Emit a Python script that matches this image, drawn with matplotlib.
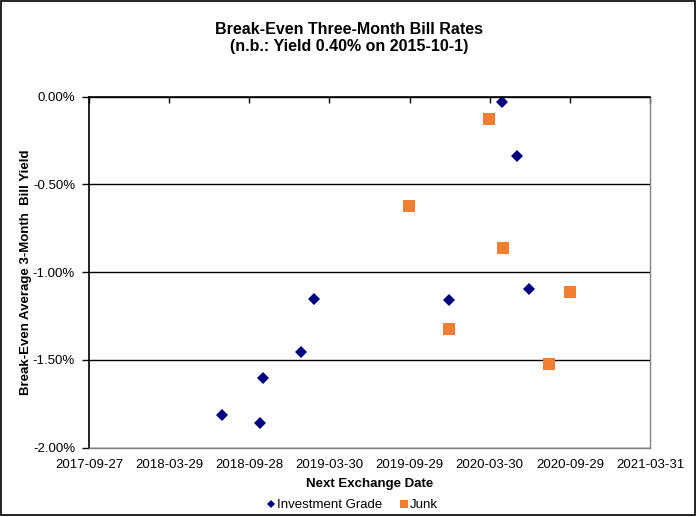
import numpy as np
import pandas as pd
import matplotlib
matplotlib.use("Agg")
from matplotlib import pyplot as plt
import matplotlib.dates as mdates
from matplotlib.patches import Rectangle

plt.rcParams['font.family'] = ['Liberation Sans', 'DejaVu Sans']

# data (yield in %)
ig_dates = ['2018-07-28', '2018-10-23', '2018-10-30', '2019-01-24', '2019-02-22',
            '2019-12-29', '2020-04-26', '2020-06-01', '2020-06-28']
ig_yields = [-1.815, -1.858, -1.603, -1.455, -1.151, -1.160, -0.029, -0.340, -1.098]

junk_dates = ['2019-09-28', '2019-12-28', '2020-03-28', '2020-04-29', '2020-08-12', '2020-09-29']
junk_yields = [-0.621, -1.322, -0.126, -0.861, -1.523, -1.111]

x_ticks = ['2017-09-27', '2018-03-29', '2018-09-28', '2019-03-30',
           '2019-09-29', '2020-03-30', '2020-09-29', '2021-03-31']
y_ticks = [0.0, -0.5, -1.0, -1.5, -2.0]
y_tick_labels = ['0.00%', '-0.50%', '-1.00%', '-1.50%', '-2.00%']

NAVY = '#000080'
ORANGE = '#F07F33'

fig = plt.figure(figsize=(6.98, 5.17), dpi=100)
ax = fig.add_axes([89 / 698, 1 - 447.7 / 517, 561 / 698, 351.1 / 517])

ax.plot(pd.to_datetime(ig_dates), ig_yields, linestyle='none', marker='D',
        ms=6, mew=0, color=NAVY, label='Investment Grade', clip_on=False)
ax.plot(pd.to_datetime(junk_dates), junk_yields, linestyle='none', marker='s',
        ms=8.4, mew=0, color=ORANGE, label='Junk', clip_on=False)

tick_dates = pd.to_datetime(x_ticks)
ax.set_xlim(tick_dates[0], tick_dates[-1])
ax.set_xticks(tick_dates)
ax.xaxis.set_major_formatter(mdates.DateFormatter('%Y-%m-%d'))
ax.set_ylim(-2.0, 0.0)
ax.set_yticks(y_ticks)
ax.set_yticklabels(y_tick_labels)

# x axis crosses at 0%: tick marks on the top line, labels at the bottom
ax.tick_params(axis='x', bottom=False, top=True, direction='in', length=4,
               width=1, labelbottom=True, labeltop=False, labelsize=9.5, pad=8)
ax.tick_params(axis='y', direction='out', length=5, width=1, labelsize=9.5, pad=5)

ax.grid(axis='y', color='black', linewidth=1)
ax.set_axisbelow(True)
for side in ['top', 'left']:
    ax.spines[side].set_color('black')
    ax.spines[side].set_linewidth(1.2)
for side in ['bottom', 'right']:
    ax.spines[side].set_color('#808080')
    ax.spines[side].set_linewidth(1)

ax.set_xlabel('Next Exchange Date', fontsize=9.5, fontweight='bold')
ax.xaxis.set_label_coords(0.5, -0.085)
ax.set_ylabel('Break-Even Average 3-Month  Bill Yield', fontsize=9.5, fontweight='bold')
ax.yaxis.set_label_coords(-0.101, 0.5)

fig.text(0.5, 1 - 30 / 517, 'Break-Even Three-Month Bill Rates',
         ha='center', va='center', fontsize=11.5, fontweight='bold')
fig.text(0.5, 1 - 47 / 517, '(n.b.: Yield 0.40% on 2015-10-1)',
         ha='center', va='center', fontsize=11.5, fontweight='bold')

ax.legend(loc='center', bbox_to_anchor=(353 / 698, 1 - 505 / 517),
          bbox_transform=fig.transFigure, ncol=2, frameon=False, fontsize=9.5,
          handlelength=0.5, handletextpad=0.2, columnspacing=1.4, markerscale=0.65)

fig.patches.append(Rectangle((0.5 / 698, 2 / 517), 694 / 698, 514 / 517,
                             transform=fig.transFigure, fill=False,
                             edgecolor='black', linewidth=1.2))

fig.savefig('out.png', dpi=100, facecolor='white')
